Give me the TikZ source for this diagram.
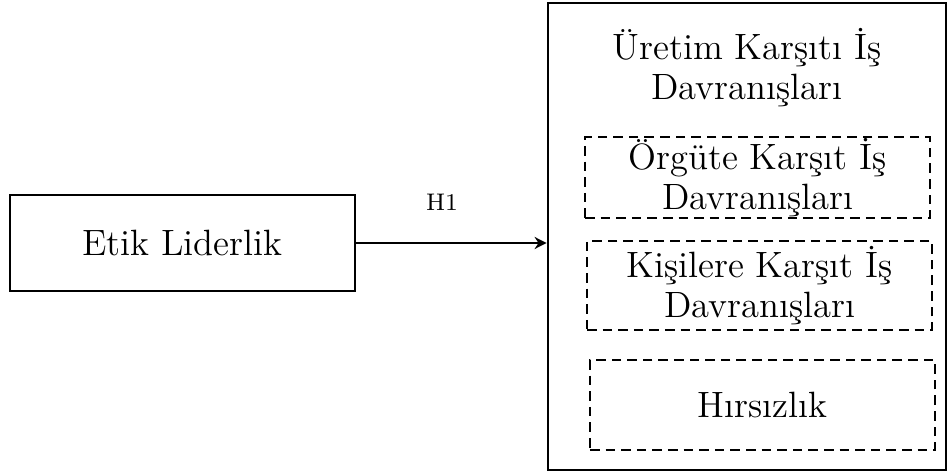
\documentclass[tikz,border=0pt]{standalone}
\usetikzlibrary{arrows.meta}

\begin{document}
\begin{tikzpicture}[x=0.3333pt, y=-0.3333pt, font=\fontsize{12.2}{13.3}\selectfont,
  box/.style={draw, line width=0.85pt, align=center, inner sep=0pt},
  sub/.style={draw, line width=0.9pt, dash pattern=on 3.2pt off 2pt, align=center, inner sep=0pt}]
  \useasboundingbox (0,0) rectangle (950,473);
  \node[box, minimum width=115pt, minimum height=32pt] (lead) at (182.5,243) {Etik Liderlik};
  \node[box, minimum width=132.7pt, minimum height=155.7pt] (cwb) at (747,236.5) {};
  \node[align=center] (cwbt) at (747,68) {Üretim Karşıtı İş\\Davranışları};
  \node[sub, minimum width=115pt, minimum height=27pt] (org) at (757.5,177.5) {Örgüte Karşıt İş\\Davranışları};
  \node[sub, minimum width=115pt, minimum height=29.7pt] (per) at (759.5,285.5) {Kişilere Karşıt İş\\Davranışları};
  \node[sub, minimum width=115pt, minimum height=30pt] (thf) at (762.5,405) {Hırsızlık};
  \draw[line width=0.95pt, -{Stealth[length=4pt, width=4pt]}] (lead) -- node[pos=0.45, yshift=13.5pt, font=\fontsize{8}{9}\selectfont] {H1} (lead -| cwb.west);
\end{tikzpicture}
\end{document}
